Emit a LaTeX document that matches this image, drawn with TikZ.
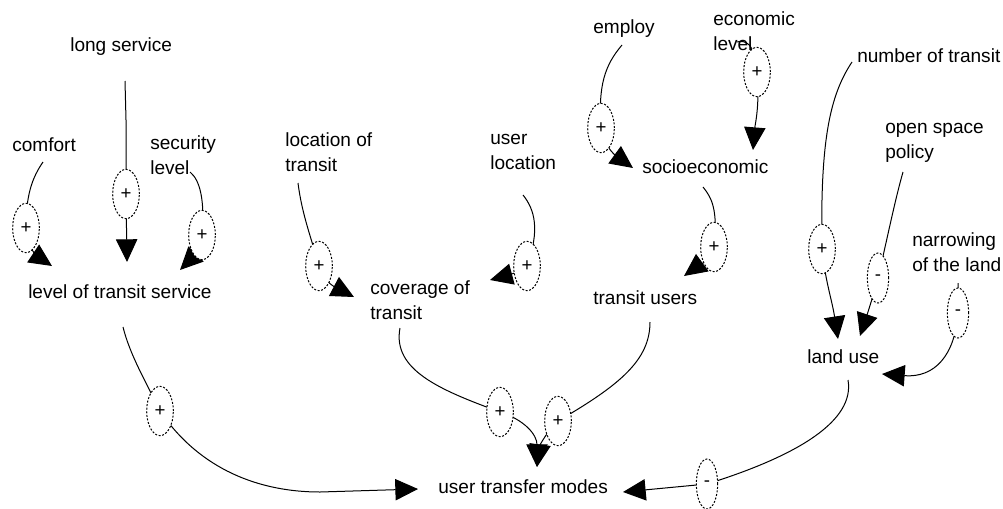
\documentclass[tikz,border=0pt]{standalone}
\usepackage{fontspec}
\setmainfont{Liberation Sans}
\usetikzlibrary{arrows.meta,shapes.geometric}
\begin{document}
\begin{tikzpicture}[x=0.75pt,y=-0.75pt,
  lbl/.style={anchor=west,inner sep=0pt,font=\fontsize{14.3}{19}\selectfont},
  lbl1/.style={lbl,text height=10.4pt,text depth=3pt},
  lbl2/.style={lbl,align=left},
  pol/.style={draw,ellipse,dash pattern=on 1.5pt off 1.2pt,fill=white,inner sep=0pt,
    minimum width=20pt,minimum height=37pt,line width=0.75pt,
    font=\fontsize{14}{14}\selectfont},
  polnarrow/.style={pol,minimum width=16pt,minimum height=37.5pt},
  link/.style={line width=0.75pt,-{Triangle[length=17pt,width=16pt]}}]
\useasboundingbox (0,0) rectangle (1003,508);
\fill[white] (0,0) rectangle (1003,508);

% variables
\node[lbl1] (longserv) at (70,47) {long service};
\node[lbl1] (comfort) at (12,147) {comfort};
\node[lbl2] (security) at (150,155) {security\\level};
\node[lbl1] (lts) at (28,294) {level of transit service};
\node[lbl2] (loctr) at (285,152) {location of\\transit};
\node[lbl2] (userloc) at (490,152) {user\\location};
\node[lbl2] (coverage) at (370,300) {coverage of\\transit};
\node[lbl1] (employ) at (593,29) {employ};
\node[lbl2] (econ) at (713,31) {economic\\level};
\node[lbl1] (socio) at (642,169) {socioeconomic};
\node[lbl1] (tusers) at (593,300) {transit users};
\node[lbl1] (numtr) at (857,58) {number of transit};
\node[lbl2] (openspace) at (885,143) {open space\\policy};
\node[lbl2] (narrow) at (912,252) {narrowing\\of the land};
\node[lbl1] (landuse) at (807,359) {land use};
\node[lbl1] (utm) at (438,489) {user transfer modes};

% polarity positions
\coordinate (e1) at (26,228);
\coordinate (e2) at (126,194);
\coordinate (e3) at (202,235);
\coordinate (e4) at (319,266);
\coordinate (e5) at (527,266);
\coordinate (e6) at (601,128);
\coordinate (e7) at (757,72);
\coordinate (e8) at (714,247);
\coordinate (e9) at (822,249);
\coordinate (e10) at (878,278);
\coordinate (e11) at (958,313);
\coordinate (e12) at (160,411);
\coordinate (e13) at (500,412);
\coordinate (e14) at (558,421);
\coordinate (e15) at (707,484);

% free ends of the links
\coordinate (s1) at (43,162);
\coordinate (t1) at (52,266);
\coordinate (s2) at (125,81);
\coordinate (t2) at (127,262);
\coordinate (s3) at (190,172);
\coordinate (t3) at (180,270);
\coordinate (s4) at (298,183);
\coordinate (t4) at (354,297);
\coordinate (s5) at (523,195);
\coordinate (t5) at (490,280);
\coordinate (s6) at (622,45);
\coordinate (t6) at (633,168);
\coordinate (s7) at (737,42);
\coordinate (t7) at (753,150);
\coordinate (s8) at (703,187);
\coordinate (t8) at (684,276);
\coordinate (s9) at (852,62);
\coordinate (t9) at (838,339);
\coordinate (s10) at (903,172);
\coordinate (t10) at (860,336);
\coordinate (s11) at (958,283);
\coordinate (t11) at (882,374);
\coordinate (s12) at (123,327);
\coordinate (t12) at (418,489);
\coordinate (s13) at (400,328);
\coordinate (t13) at (537,467);
\coordinate (s14) at (650,322);
\coordinate (s15) at (848,380);
\coordinate (t15) at (623,492);

% links
\draw[link] (s1) .. controls (32,178) and (26,195) .. (e1) .. controls (26,248) and (40,258) .. (t1);
\draw[link] (s2) -- (126,120) -- (e2) -- (t2);
\draw[link] (s3) .. controls (200,180) and (205,200) .. (e3) .. controls (199,250) and (190,260) .. (t3);
\draw[link] (s4) .. controls (302,215) and (312,240) .. (e4) .. controls (324,282) and (335,287) .. (t4);
\draw[link] (s5) .. controls (535,210) and (540,230) .. (e5) .. controls (520,272) and (505,276) .. (t5);
\draw[link] (s6) .. controls (605,65) and (598,85) .. (e6) .. controls (603,145) and (615,155) .. (t6);
\draw[link] (s7) .. controls (745,40) and (755,42) .. (e7) .. controls (760,105) and (755,125) .. (t7);
\draw[link] (s8) .. controls (712,198) and (718,210) .. (e8) .. controls (710,262) and (695,268) .. (t8);
\draw[link] (s9) .. controls (830,95) and (820,140) .. (e9) .. controls (825,280) and (832,300) .. (t9);
\draw[link] (s10) .. controls (895,200) and (888,235) .. (e10) .. controls (872,300) and (866,318) .. (t10);
\draw[link] (s11) -- (e11) .. controls (955,355) and (935,378) .. (t11);
\draw[link] (s12) .. controls (130,355) and (145,380) .. (e12) .. controls (200,470) and (260,492) .. (320,492) -- (t12);
\draw[link] (s13) .. controls (392,370) and (440,390) .. (e13) .. controls (525,420) and (537,435) .. (t13);
\draw[link] (s14) .. controls (650,360) and (620,385) .. (e14) .. controls (548,430) and (540,445) .. (t13);
\draw[link] (s15) .. controls (855,420) and (800,455) .. (e15) -- (t15);

% polarity marks
\node[pol] (p1) at (e1) {+};
\node[pol] (p2) at (e2) {+};
\node[pol] (p3) at (e3) {+};
\node[pol] (p4) at (e4) {+};
\node[pol] (p5) at (e5) {+};
\node[pol] (p6) at (e6) {+};
\node[pol] (p7) at (e7) {+};
\node[pol] (p8) at (e8) {+};
\node[pol] (p9) at (e9) {+};
\node[polnarrow] (p10) at (e10) {-};
\node[polnarrow] (p11) at (e11) {-};
\node[pol] (p12) at (e12) {+};
\node[pol] (p13) at (e13) {+};
\node[pol] (p14) at (e14) {+};
\node[polnarrow] (p15) at (e15) {-};
\end{tikzpicture}
\end{document}
